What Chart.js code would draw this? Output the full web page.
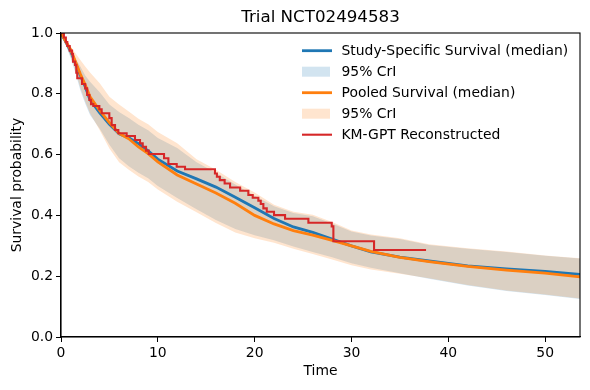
<!DOCTYPE html>
<html>
<head>
<meta charset="utf-8">
<script src="https://cdn.jsdelivr.net/npm/chart.js@4"></script>
<style>
  html, body { margin: 0; padding: 0; background: #fff; }
  #wrap { width: 590px; height: 390px; }
</style>
</head>
<body>
<div id="wrap"><canvas id="chart" width="590" height="390"></canvas></div>
<script>
// time grid for the posterior curves
const curveTime = [0, 0.5, 1, 1.5, 2, 2.5, 3, 4, 5, 6, 7, 8, 9, 10, 12, 14, 16, 18, 20, 22, 24, 26, 28, 30, 32, 35, 38, 42, 46, 50, 53.6];

// study-specific survival
const studyMedian = [1.0, 0.97, 0.94, 0.9, 0.86, 0.823, 0.78, 0.737, 0.7, 0.668, 0.655, 0.636, 0.612, 0.585, 0.546, 0.52, 0.493, 0.46, 0.425, 0.39, 0.362, 0.344, 0.322, 0.3, 0.28, 0.263, 0.25, 0.234, 0.224, 0.216, 0.206];
const studyUpper = [1.0, 0.975, 0.948, 0.915, 0.89, 0.86, 0.84, 0.805, 0.765, 0.74, 0.72, 0.698, 0.68, 0.655, 0.622, 0.575, 0.54, 0.502, 0.465, 0.43, 0.408, 0.397, 0.373, 0.347, 0.334, 0.322, 0.303, 0.29, 0.28, 0.267, 0.258];
const studyLower = [1.0, 0.96, 0.918, 0.868, 0.812, 0.768, 0.73, 0.685, 0.632, 0.588, 0.562, 0.54, 0.522, 0.497, 0.457, 0.42, 0.385, 0.355, 0.335, 0.318, 0.298, 0.28, 0.262, 0.243, 0.228, 0.21, 0.192, 0.169, 0.151, 0.138, 0.125];

// pooled survival
const pooledMedian = [1.0, 0.972, 0.945, 0.905, 0.865, 0.83, 0.79, 0.745, 0.705, 0.67, 0.652, 0.625, 0.603, 0.576, 0.533, 0.503, 0.474, 0.44, 0.4, 0.372, 0.35, 0.335, 0.318, 0.3, 0.282, 0.262, 0.248, 0.232, 0.22, 0.21, 0.198];
const pooledUpper = [1.0, 0.978, 0.955, 0.933, 0.911, 0.89, 0.87, 0.835, 0.79, 0.765, 0.742, 0.718, 0.7, 0.674, 0.637, 0.585, 0.55, 0.51, 0.475, 0.435, 0.412, 0.402, 0.378, 0.35, 0.337, 0.325, 0.305, 0.292, 0.281, 0.268, 0.259];
const pooledLower = [1.0, 0.962, 0.922, 0.875, 0.82, 0.775, 0.736, 0.68, 0.62, 0.575, 0.55, 0.528, 0.51, 0.485, 0.445, 0.41, 0.375, 0.344, 0.325, 0.31, 0.29, 0.273, 0.255, 0.236, 0.222, 0.208, 0.193, 0.171, 0.153, 0.14, 0.127];

// KM-GPT reconstructed curve (survival after each step)
const kmTime = [0, 0.3, 0.5, 0.65, 0.9, 1.14, 1.24, 1.45, 1.58, 1.68, 2.17, 2.5, 2.7, 2.93, 3.1, 3.34, 3.96, 4.2, 4.99, 5.23, 5.58, 5.92, 6.78, 7.64, 8.16, 8.44, 8.78, 9.06, 10.64, 11.09, 11.95, 12.81, 15.9, 16.1, 16.4, 16.9, 17.46, 18.5, 19.35, 19.8, 20.38, 20.63, 20.9, 21.25, 22.0, 23.14, 25.55, 27.96, 28.13, 32.33, 37.7];
const kmSurv = [1.0, 0.985, 0.97, 0.957, 0.942, 0.931, 0.906, 0.895, 0.869, 0.851, 0.832, 0.818, 0.796, 0.78, 0.766, 0.76, 0.749, 0.736, 0.72, 0.697, 0.681, 0.67, 0.661, 0.648, 0.637, 0.626, 0.613, 0.602, 0.588, 0.569, 0.56, 0.552, 0.538, 0.527, 0.516, 0.505, 0.492, 0.481, 0.467, 0.458, 0.448, 0.4375, 0.423, 0.412, 0.401, 0.389, 0.376, 0.364, 0.315, 0.286, 0.286];

const xTicks = [0, 10, 20, 30, 40, 50];
const yTicks = [0, 0.2, 0.4, 0.6, 0.8, 1.0];
const xMax = 53.6;

const titleText = "Trial NCT02494583";
const BLUE = "#1f77b4";
const ORANGE = "#ff7f0e";
const RED = "#d62728";
const BLUE_FILL = "rgba(31, 119, 180, 0.2)";
const ORANGE_FILL = "rgba(255, 127, 14, 0.2)";
const FONT = "'DejaVu Sans', sans-serif";

const toPoints = (xs, ys) => xs.map((x, i) => ({ x: x, y: ys[i] }));

const bandStyle = { borderWidth: 0, pointRadius: 0, tension: 0 };

const datasets = [
  { label: "lower-study", data: toPoints(curveTime, studyLower), ...bandStyle, borderColor: "rgba(0,0,0,0)", fill: false, order: 7 },
  { label: "95% CrI", data: toPoints(curveTime, studyUpper), ...bandStyle, borderColor: "rgba(0,0,0,0)", backgroundColor: BLUE_FILL, fill: "-1", order: 6 },
  { label: "lower-pooled", data: toPoints(curveTime, pooledLower), ...bandStyle, borderColor: "rgba(0,0,0,0)", fill: false, order: 5 },
  { label: "95% CrI", data: toPoints(curveTime, pooledUpper), ...bandStyle, borderColor: "rgba(0,0,0,0)", backgroundColor: ORANGE_FILL, fill: "-1", order: 4 },
  { label: "Study-Specific Survival (median)", data: toPoints(curveTime, studyMedian), borderColor: BLUE, borderWidth: 2.8, pointRadius: 0, tension: 0, fill: false, order: 3 },
  { label: "Pooled Survival (median)", data: toPoints(curveTime, pooledMedian), borderColor: ORANGE, borderWidth: 2.8, pointRadius: 0, tension: 0, fill: false, order: 2 },
  { label: "KM-GPT Reconstructed", data: toPoints(kmTime, kmSurv), borderColor: RED, borderWidth: 2.1, pointRadius: 0, stepped: "before", fill: false, order: 1 },
];

// legend entries in the same order as the reference
const legendItems = [
  { kind: "line", color: BLUE, width: 2.8, text: datasets[4].label },
  { kind: "patch", color: BLUE_FILL, text: datasets[1].label },
  { kind: "line", color: ORANGE, width: 2.8, text: datasets[5].label },
  { kind: "patch", color: ORANGE_FILL, text: datasets[3].label },
  { kind: "line", color: RED, width: 2.1, text: datasets[6].label },
];

const decorPlugin = {
  id: "decor",
  afterDraw(chart) {
    const { ctx, chartArea } = chart;
    ctx.save();
    // frame
    ctx.strokeStyle = "#000";
    ctx.lineWidth = 1.1;
    ctx.strokeRect(chartArea.left, chartArea.top, chartArea.right - chartArea.left, chartArea.bottom - chartArea.top);

    // title
    ctx.fillStyle = "#000";
    ctx.font = "16.7px " + FONT;
    ctx.textAlign = "center";
    ctx.textBaseline = "middle";
    ctx.fillText(titleText, (chartArea.left + chartArea.right) / 2, 18);

    // legend
    ctx.font = "13.9px " + FONT;
    ctx.textAlign = "left";
    legendItems.forEach((item, i) => {
      const y = 50.7 + i * 21;
      if (item.kind === "line") {
        ctx.strokeStyle = item.color;
        ctx.lineWidth = item.width;
        ctx.beginPath();
        ctx.moveTo(302, y);
        ctx.lineTo(332, y);
        ctx.stroke();
      } else {
        ctx.fillStyle = item.color;
        ctx.fillRect(302, y - 5, 28, 10);
      }
      ctx.fillStyle = "#000";
      ctx.fillText(item.text, 341.5, y + 1);
    });
    ctx.restore();
  },
};

new Chart(document.getElementById("chart"), {
  type: "line",
  data: { datasets: datasets },
  options: {
    responsive: false,
    animation: false,
    devicePixelRatio: 1,
    layout: { padding: { top: 33, right: 10, left: 0, bottom: 0 } },
    plugins: {
      legend: { display: false },
      title: { display: false },
      tooltip: { enabled: false },
      filler: { propagate: false },
    },
    scales: {
      x: {
        type: "linear",
        min: 0,
        max: xMax,
        afterBuildTicks: (scale) => { scale.ticks = xTicks.map((v) => ({ value: v })); },
        afterFit: (scale) => { scale.height = 53; },
        grid: { drawOnChartArea: false, drawTicks: true, tickLength: 5, tickColor: "#000" },
        border: { display: true, color: "#000", width: 1.1 },
        ticks: { color: "#000", font: { family: FONT, size: 13.9 }, padding: 3, maxRotation: 0, callback: (v) => String(v) },
        title: { display: true, text: "Time", color: "#000", font: { family: FONT, size: 13.9 }, padding: { top: 0, bottom: 10 } },
      },
      y: {
        type: "linear",
        min: 0,
        max: 1,
        afterBuildTicks: (scale) => { scale.ticks = yTicks.map((v) => ({ value: v })); },
        afterFit: (scale) => { scale.width = 61; },
        grid: { drawOnChartArea: false, drawTicks: true, tickLength: 5, tickColor: "#000" },
        border: { display: true, color: "#000", width: 1.1 },
        ticks: { color: "#000", font: { family: FONT, size: 13.9 }, padding: 3, callback: (v) => v.toFixed(1) },
        title: { display: true, text: "Survival probability", color: "#000", font: { family: FONT, size: 13.9 }, padding: { top: 9, bottom: 0 } },
      },
    },
  },
  plugins: [decorPlugin],
});
</script>
</body>
</html>
